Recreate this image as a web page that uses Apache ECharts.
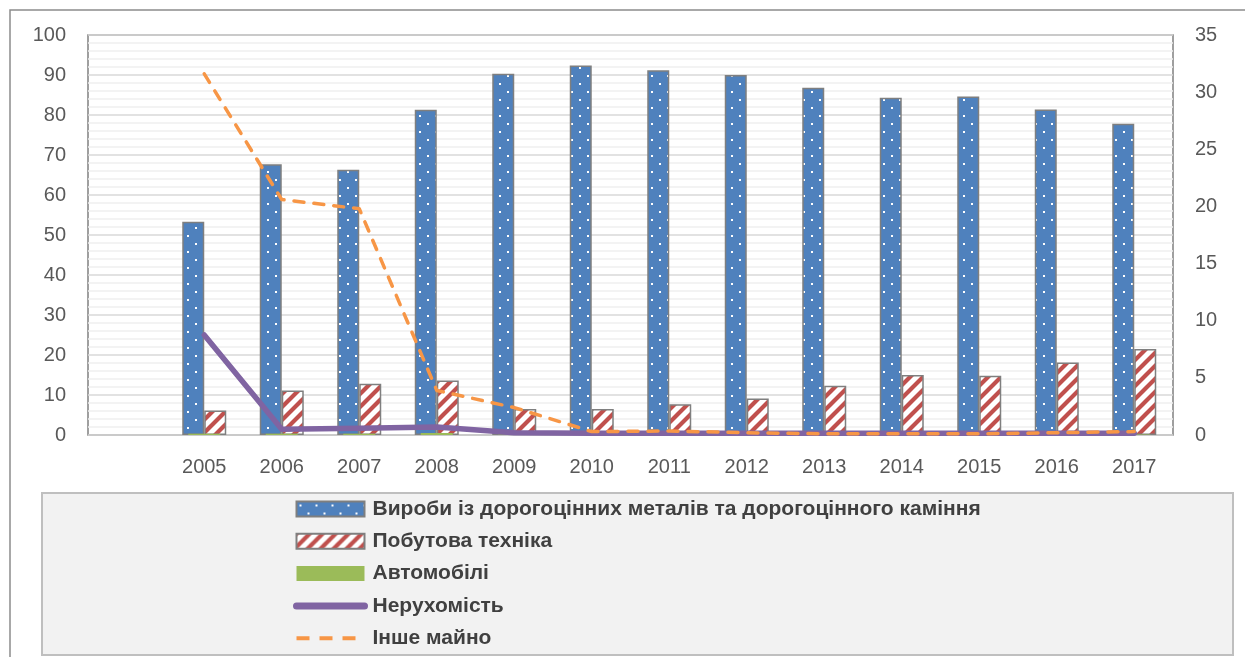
<!DOCTYPE html>
<html>
<head>
<meta charset="utf-8">
<script src="https://cdn.jsdelivr.net/npm/echarts@6/dist/echarts.min.js"></script>
<style>
html,body{margin:0;padding:0;background:#fff;}
#chart{width:1245px;height:657px;}
</style>
</head>
<body>
<div id="chart"></div>
<script>
const categories = ['', '2005', '2006', '2007', '2008', '2009', '2010', '2011', '2012', '2013', '2014', '2015', '2016', '2017'];
const jewelry = [null, 53.3, 67.7, 66.3, 81.3, 90.3, 92.4, 91.2, 90.0, 86.8, 84.3, 84.6, 81.4, 77.8];
const appliances = [null, 6.1, 11.1, 12.8, 13.6, 6.5, 6.5, 7.7, 9.1, 12.3, 15.0, 14.8, 18.1, 21.5];
const cars = [null, 0.12, 0.12, 0.12, 0.18, 0.05, 0.05, 0.05, 0.05, 0.05, 0.05, 0.05, 0.05, 0.05];
const realty = [null, 8.75, 0.5, 0.6, 0.7, 0.2, 0.15, 0.15, 0.15, 0.15, 0.15, 0.15, 0.15, 0.15];
const other = [null, 31.6, 20.6, 19.8, 3.9, 2.4, 0.3, 0.35, 0.2, 0.1, 0.1, 0.1, 0.2, 0.3];
const leftTicks = {min: 0, max: 100, interval: 10};
const rightTicks = {min: 0, max: 35, interval: 5};
const names = ['Вироби із дорогоцінних металів та дорогоцінного каміння', 'Побутова техніка', 'Автомобілі', 'Нерухомість', 'Інше майно'];

function dotPattern() {
  const c = document.createElement('canvas');
  c.width = 16; c.height = 16;
  const g = c.getContext('2d');
  g.fillStyle = '#4F81BD'; g.fillRect(0, 0, 16, 16);
  g.fillStyle = '#ffffff';
  g.fillRect(3, 3, 2, 2);
  g.fillRect(11, 11, 2, 2);
  return c;
}
function stripePattern() {
  const s = 13;
  const c = document.createElement('canvas');
  c.width = s; c.height = s;
  const g = c.getContext('2d');
  g.fillStyle = '#ffffff'; g.fillRect(0, 0, s, s);
  g.strokeStyle = '#C0504D'; g.lineWidth = 4.2;
  g.beginPath();
  g.moveTo(-2, s + 2); g.lineTo(s + 2, -2);
  g.moveTo(-2, 2); g.lineTo(2, -2);
  g.moveTo(s - 2, s + 2); g.lineTo(s + 2, s - 2);
  g.stroke();
  return c;
}

const chart = echarts.init(document.getElementById('chart'), null, {renderer: 'canvas'});
const labelColor = '#595959';
const font = 'Liberation Sans, Arial, sans-serif';

chart.setOption({
  animation: false,
  backgroundColor: '#ffffff',
  graphic: [
    {type: 'rect', shape: {x: 10, y: 10, width: 1260, height: 680}, style: {fill: 'none', stroke: '#8c8c8c', lineWidth: 1.5}, z: -10},
    {type: 'rect', shape: {x: 42, y: 493, width: 1191, height: 162}, style: {fill: '#f2f2f2', stroke: '#bfbfbf', lineWidth: 2}, z: -10}
  ],
  grid: {left: 88, top: 35, right: 72, bottom: 222, show: true, borderColor: '#808080', borderWidth: 1.5, backgroundColor: '#ffffff'},
  legend: {
    orient: 'vertical', left: 293, top: 498, height: 170, padding: 0,
    itemWidth: 68, itemHeight: 15, itemGap: 10.3,
    textStyle: {fontFamily: font, fontWeight: 'bold', fontSize: 21, lineHeight: 22, color: '#404040', padding: [0, 0, 0, 3]},
    data: [
      {name: names[0], icon: 'rect'},
      {name: names[1], icon: 'rect'},
      {name: names[2], icon: 'rect'},
      {name: names[3], itemStyle: {opacity: 0}, lineStyle: {width: 7, cap: 'round'}},
      {name: names[4], itemStyle: {opacity: 0}, lineStyle: {width: 4, type: [13, 10], cap: 'butt'}}
    ]
  },
  xAxis: [
    {type: 'category', data: categories, boundaryGap: true,
     axisLine: {show: false}, axisTick: {show: false},
     axisLabel: {color: labelColor, fontSize: 20, fontFamily: font, margin: 22, interval: 0},
     splitLine: {show: false}},
    {type: 'category', data: categories, show: false, position: 'bottom'}
  ],
  yAxis: [
    {type: 'value', min: leftTicks.min, max: leftTicks.max, interval: leftTicks.interval, position: 'left',
     axisLine: {show: false}, axisTick: {show: false},
     axisLabel: {color: labelColor, fontSize: 20, fontFamily: font, margin: 22},
     splitLine: {show: true, lineStyle: {color: '#d9d9d9', width: 1.5}},
     minorTick: {show: false, splitNumber: 5},
     minorSplitLine: {show: true, lineStyle: {color: '#efefef', width: 1.5}}},
    {type: 'value', min: rightTicks.min, max: rightTicks.max, interval: rightTicks.interval, position: 'right',
     axisLine: {show: false}, axisTick: {show: false},
     axisLabel: {color: labelColor, fontSize: 20, fontFamily: font, margin: 22},
     splitLine: {show: false}}
  ],
  series: [
    {name: names[0], type: 'bar', xAxisIndex: 0, yAxisIndex: 0, data: jewelry, barWidth: 22, barGap: '0%',
     itemStyle: {color: {image: dotPattern(), repeat: 'repeat'}, borderColor: '#7f7f7f', borderWidth: 1.5}, z: 2},
    {name: names[1], type: 'bar', xAxisIndex: 0, yAxisIndex: 0, data: appliances, barWidth: 22, barGap: '0%',
     itemStyle: {color: {image: stripePattern(), repeat: 'repeat'}, borderColor: '#7f7f7f', borderWidth: 1.5}, z: 2},
    {name: names[2], type: 'bar', xAxisIndex: 1, yAxisIndex: 1, data: cars, barWidth: 32,
     itemStyle: {color: '#9BBB59'}, z: 3},
    {name: names[3], type: 'line', xAxisIndex: 0, yAxisIndex: 1, data: realty, symbol: 'none', showSymbol: false,
     lineStyle: {color: '#8064A2', width: 5.5, cap: 'round', join: 'round'}, itemStyle: {color: '#8064A2'}, z: 4},
    {name: names[4], type: 'line', xAxisIndex: 0, yAxisIndex: 1, data: other, symbol: 'none', showSymbol: false,
     lineStyle: {color: '#F79646', width: 3.5, type: [10, 10], cap: 'round', join: 'round'}, itemStyle: {color: '#F79646'}, z: 5}
  ]
});
</script>
</body>
</html>
